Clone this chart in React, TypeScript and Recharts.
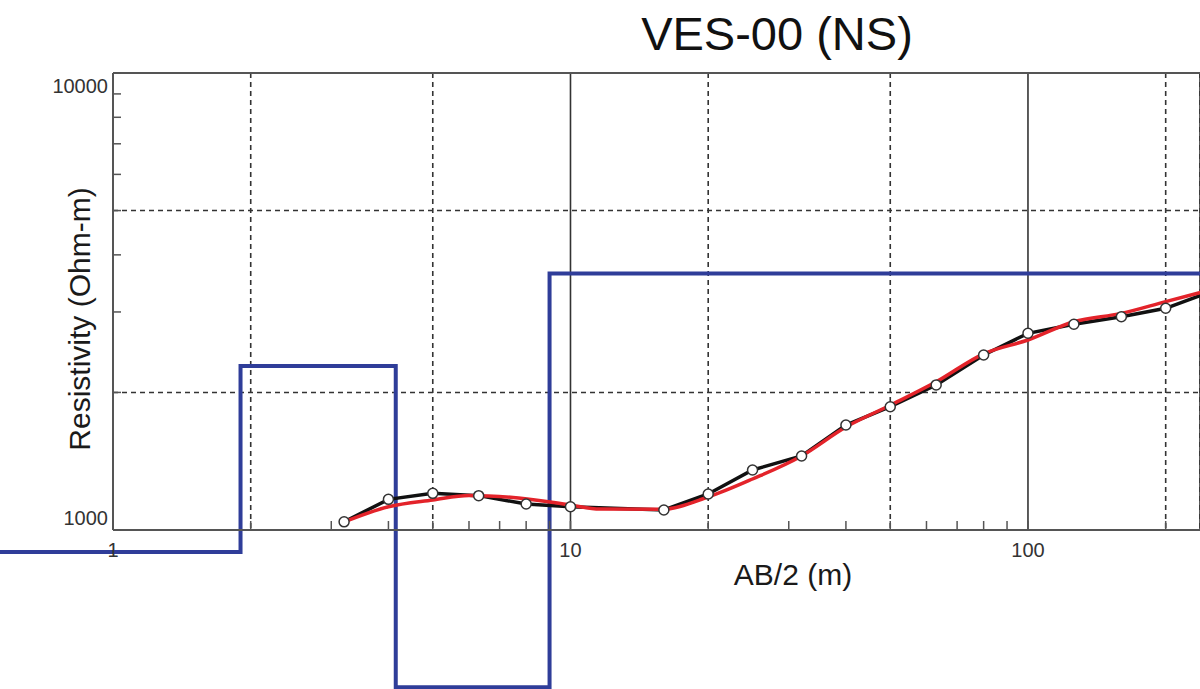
import { CartesianGrid, ComposedChart, Label, Line, ReferenceLine, XAxis, YAxis } from 'recharts'

const FONT = '"Liberation Sans", Arial, sans-serif'
const X_MIN = 1
const X_MAX = 237.7
const Y_MIN = 1000
const Y_MAX = 10000

// field data (AB/2 in m, apparent resistivity in Ohm-m)
const abHalf = [3.2, 4, 5, 6.3, 8, 10, 16, 20, 25, 32, 40, 50, 63, 80, 100, 126, 160, 200, 250]
const rhoObserved = [1042, 1167, 1203, 1189, 1140, 1124, 1106, 1199, 1353, 1452, 1697, 1861, 2077, 2415, 2694, 2819, 2929, 3056, 3320]

// calculated curve from the model
const abHalfCalc = [3.15, 4, 5, 6, 7.7, 10, 11.6, 15.8, 20, 25, 32, 40, 50, 63, 80, 100, 126, 160, 200, 250]
const rhoCalc = [1035, 1124, 1163, 1190, 1175, 1134, 1111, 1110, 1181, 1293, 1452, 1680, 1875, 2110, 2430, 2605, 2855, 2978, 3160, 3350]

// layered model (step curve)
const layerDepth = [0.5, 1.9, 4.15, 9.0, 300]
const layerRho = [895, 2285, 453, 3640, 3640]

const xTicks = [1, 2, 3, 4, 5, 6, 7, 8, 9, 10, 20, 30, 40, 50, 60, 70, 80, 90, 100, 200]
const xLabels = [1, 10, 100]
const yTicks = [1000, 2000, 3000, 4000, 5000, 6000, 7000, 8000, 9000, 10000]
const yLabels = [1000, 10000]
const xGridDashed = [2, 5, 20, 50, 200]
const xGridSolid = [10, 100]
const yGridDashed = [2000, 5000]

const observed = abHalf.map((x, i) => ({ x, y: rhoObserved[i] }))
const calculated = abHalfCalc.map((x, i) => ({ x, y: rhoCalc[i] }))
const model = layerDepth.map((x, i) => ({ x, y: layerRho[i] }))

function XTick({ x, y, payload }: any) {
  const v = payload.value
  return (
    <g>
      <line x1={x} x2={x} y1={y} y2={y - 9} stroke="#555" strokeWidth={1.5} />
      {xLabels.includes(v) && (
        <text x={x} y={y + 27} textAnchor="middle" fontSize={20} fill="#333" fontFamily={FONT}>
          {v}
        </text>
      )}
    </g>
  )
}

function YTick({ x, y, payload }: any) {
  const v = payload.value
  const dy = v === Y_MAX ? 20 : -5
  return (
    <g>
      <line x1={x} x2={x + 8} y1={y} y2={y} stroke="#555" strokeWidth={1.5} />
      {yLabels.includes(v) && (
        <text x={x - 5} y={y + dy} textAnchor="end" fontSize={20} fill="#333" fontFamily={FONT}>
          {v}
        </text>
      )}
    </g>
  )
}

function XTitle({ viewBox }: any) {
  return (
    <text x={viewBox.x + 680} y={viewBox.y + 55} textAnchor="middle" fontSize={30} fill="#1a1a1a" fontFamily={FONT}>
      AB/2 (m)
    </text>
  )
}

function YTitle({ viewBox }: any) {
  const cx = viewBox.x + 43
  const cy = viewBox.y + 246
  return (
    <text
      x={cx}
      y={cy}
      transform={`rotate(-90, ${cx}, ${cy})`}
      textAnchor="middle"
      fontSize={30}
      fill="#1a1a1a"
      fontFamily={FONT}
    >
      Resistivity (Ohm-m)
    </text>
  )
}

export default function App() {
  return (
    <div style={{ position: 'relative', width: 1200, height: 689, overflow: 'hidden', background: '#fff' }}>
      <style>{'body{margin:0} .model-line, .model-line * { clip-path: none !important; }'}</style>
      <div
        style={{
          position: 'absolute',
          left: 577,
          top: 10,
          width: 400,
          textAlign: 'center',
          fontSize: 47,
          lineHeight: '47px',
          fontFamily: FONT,
          color: '#111',
          zIndex: 1,
        }}
      >
        VES-00 (NS)
      </div>
      <ComposedChart width={1200} height={689} margin={{ top: 73, right: 0, bottom: 129, left: 47 }}>
        <XAxis
          type="number"
          dataKey="x"
          scale="log"
          domain={[X_MIN, X_MAX]}
          allowDataOverflow
          ticks={xTicks}
          interval={0}
          tickSize={0}
          tickMargin={0}
          tickLine={false}
          tick={<XTick />}
          axisLine={{ stroke: '#555', strokeWidth: 2 }}
          height={30}
        >
          <Label content={<XTitle />} />
        </XAxis>
        <YAxis
          type="number"
          dataKey="y"
          scale="log"
          domain={[Y_MIN, Y_MAX]}
          allowDataOverflow
          ticks={yTicks}
          interval={0}
          tickSize={0}
          tickMargin={0}
          tickLine={false}
          tick={<YTick />}
          axisLine={{ stroke: '#555', strokeWidth: 2 }}
          width={66}
        >
          <Label content={<YTitle />} />
        </YAxis>
        <XAxis xAxisId="gridDash" type="number" dataKey="x" scale="log" domain={[X_MIN, X_MAX]} allowDataOverflow ticks={xGridDashed} hide />
        <XAxis xAxisId="gridSolid" type="number" dataKey="x" scale="log" domain={[X_MIN, X_MAX]} allowDataOverflow ticks={xGridSolid} hide />
        <YAxis yAxisId="gridDash" type="number" dataKey="y" scale="log" domain={[Y_MIN, Y_MAX]} allowDataOverflow ticks={yGridDashed} hide />
        <CartesianGrid xAxisId="gridDash" yAxisId="gridDash" stroke="#333" strokeWidth={1.6} strokeDasharray="5 4" />
        <CartesianGrid xAxisId="gridSolid" horizontal={false} stroke="#333" strokeWidth={1.6} />
        <ReferenceLine y={Y_MAX} stroke="#555" strokeWidth={2} />
        <Line
          className="model-line"
          data={model}
          dataKey="y"
          type="stepAfter"
          stroke="#2f3d99"
          strokeWidth={4}
          dot={false}
          isAnimationActive={false}
        />
        <Line data={observed} dataKey="y" type="linear" stroke="#111" strokeWidth={3.5} dot={false} isAnimationActive={false} />
        <Line data={calculated} dataKey="y" type="monotone" stroke="#e3232a" strokeWidth={3.5} dot={false} isAnimationActive={false} />
        <Line
          data={observed}
          dataKey="y"
          stroke="none"
          dot={{ r: 5, stroke: '#333', strokeWidth: 1.5, fill: '#fff' }}
          isAnimationActive={false}
        />
      </ComposedChart>
    </div>
  )
}
